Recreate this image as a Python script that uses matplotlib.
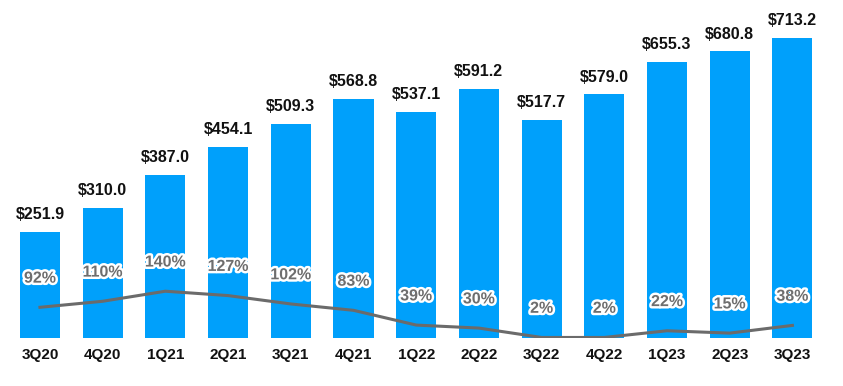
import numpy as np
import matplotlib.pyplot as plt
import matplotlib.patheffects as pe

plt.rcParams['font.family'] = ['Liberation Sans', 'DejaVu Sans']

quarters = ["3Q20", "4Q20", "1Q21", "2Q21", "3Q21", "4Q21", "1Q22",
            "2Q22", "3Q22", "4Q22", "1Q23", "2Q23", "3Q23"]
revenue = [251.9, 310.0, 387.0, 454.1, 509.3, 568.8, 537.1,
           591.2, 517.7, 579.0, 655.3, 680.8, 713.2]
growth = [92, 110, 140, 127, 102, 83, 39, 30, 2, 2, 22, 15, 38]

fig = plt.figure(figsize=(8.43, 3.86), dpi=100)
ax = fig.add_axes([0.0102, 0.124, 0.967, 0.876])
x = np.arange(len(quarters))

ax.bar(x, revenue, width=0.64, color="#00a0fb", zorder=1)
for xi, v in zip(x, revenue):
    ax.annotate(f"${v:.1f}", (xi, v), xytext=(0, 7), textcoords="offset points",
                ha="center", va="bottom", fontsize=11.5, fontweight="bold", color="#111111")

ax.set_xlim(-0.5, len(quarters) - 0.5)
ax.set_ylim(0, 803)
ax.set_xticks(x)
ax.set_xticklabels(quarters, fontsize=11, fontweight="bold", color="#111111")
ax.tick_params(axis="x", length=0, pad=7)
ax.set_yticks([])
for s in ax.spines.values():
    s.set_visible(False)

ax2 = ax.twinx()
ax2.set_ylim(0, 1009)
ax2.plot(x, growth, color="#6b6b6b", lw=2.2, zorder=3)
for xi, g in zip(x, growth):
    ax2.annotate(f"{g}%", (xi, g), xytext=(0, 21), textcoords="offset points",
                 ha="center", va="center", fontsize=11.5, fontweight="bold", color="#6e6e6e",
                 path_effects=[pe.withStroke(linewidth=3.5, foreground="white")])
ax2.set_yticks([])
for s in ax2.spines.values():
    s.set_visible(False)

fig.savefig("out.png", dpi=100)
